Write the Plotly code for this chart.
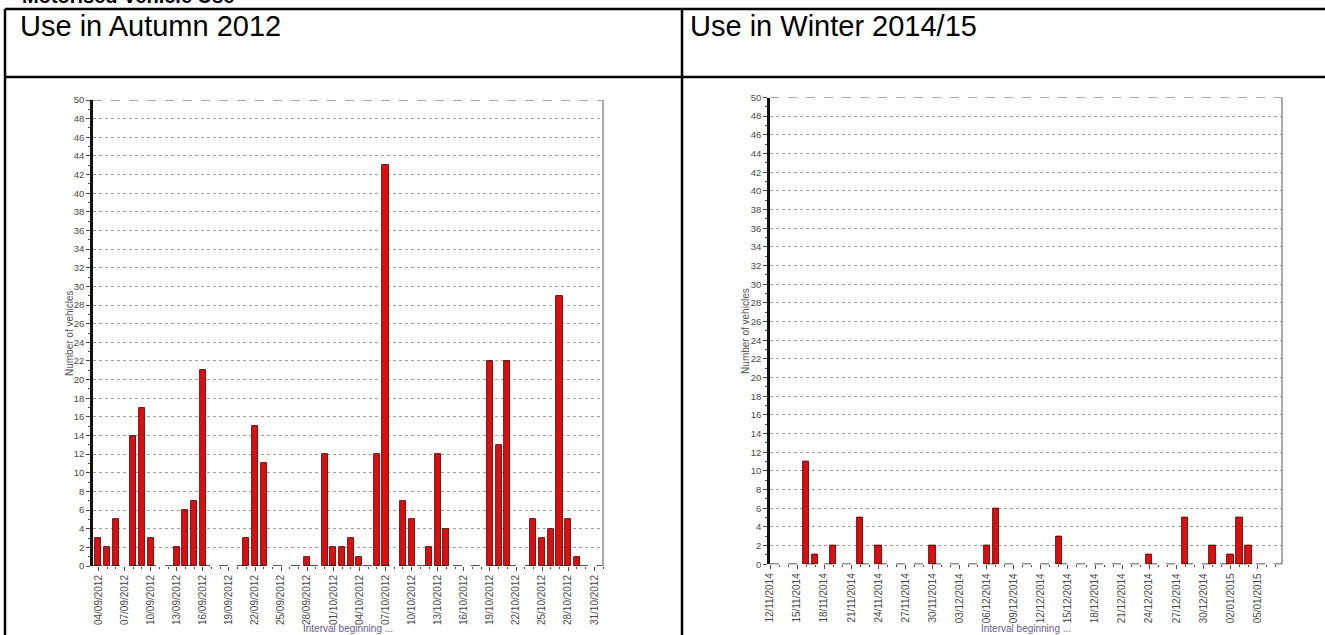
import plotly.graph_objects as go

W, H = 1325, 635

# ---- data ----
autumn_dates = ["2012-09-04", "2012-09-05", "2012-09-06", "2012-09-08", "2012-09-09", "2012-09-10",
                "2012-09-13", "2012-09-14", "2012-09-15", "2012-09-16", "2012-09-21", "2012-09-22",
                "2012-09-23", "2012-09-28", "2012-09-30", "2012-10-01", "2012-10-02", "2012-10-03",
                "2012-10-04", "2012-10-06", "2012-10-07", "2012-10-09", "2012-10-10", "2012-10-12",
                "2012-10-13", "2012-10-14", "2012-10-19", "2012-10-20", "2012-10-21", "2012-10-24",
                "2012-10-25", "2012-10-26", "2012-10-27", "2012-10-28", "2012-10-29"]
autumn_vals = [3, 2, 5, 14, 17, 3, 2, 6, 7, 21, 3, 15, 11, 1, 12, 2, 2, 3, 1, 12, 43, 7, 5, 2,
               12, 4, 22, 13, 22, 5, 3, 4, 29, 5, 1]

winter_dates = ["2014-11-16", "2014-11-17", "2014-11-19", "2014-11-22", "2014-11-24", "2014-11-30",
                "2014-12-06", "2014-12-07", "2014-12-14", "2014-12-24", "2014-12-28", "2014-12-31",
                "2015-01-02", "2015-01-03", "2015-01-04"]
winter_vals = [11, 1, 2, 5, 2, 2, 2, 6, 3, 1, 5, 2, 1, 5, 2]

page_title = "Motorised Vehicle Use"
head_left = "Use in Autumn 2012"
head_right = "Use in Winter 2014/15"
y_title = "Number of vehicles"
x_title = "Interval beginning ..."

DAY = 86400000
FONT = "Liberation Sans, Arial, sans-serif"
BAR = "#dc0f0f"
TICK_C = "#4a4a4a"


def px_x(p):
    return p / W


def px_y(p):
    return 1 - p / H


fig = go.Figure()
fig.add_trace(go.Bar(x=autumn_dates, y=autumn_vals, xaxis="x", yaxis="y", width=0.7 * DAY,
                     marker=dict(color=BAR, line=dict(color="#3a0000", width=0.8)), showlegend=False))
fig.add_trace(go.Bar(x=winter_dates, y=winter_vals, xaxis="x2", yaxis="y2", width=0.7 * DAY,
                     marker=dict(color=BAR, line=dict(color="#3a0000", width=0.8)), showlegend=False))


def xaxis(domain, rng, tick0):
    return dict(domain=domain, type="date", range=rng, tick0=tick0, dtick=3 * DAY,
                tickformat="%d/%m/%Y", tickangle=-90, ticks="outside", ticklen=4,
                tickcolor=TICK_C, tickwidth=1, showgrid=False, showline=False, zeroline=False,
                automargin=False,
                tickfont=dict(family=FONT, size=10, color=TICK_C),
                minor=dict(dtick=DAY, ticks="outside", ticklen=2, tickcolor=TICK_C, showgrid=False))


def yaxis(domain, anchor):
    return dict(domain=domain, anchor=anchor, range=[0, 50], dtick=2, ticks="outside", ticklen=4,
                tickcolor=TICK_C, showgrid=True, gridcolor="#a0a0a0", griddash="dot", gridwidth=1,
                showline=True, linecolor="#111111", linewidth=2.5, zeroline=False, automargin=False,
                tickfont=dict(family=FONT, size=9.5, color=TICK_C),
                minor=dict(dtick=1, ticks="outside", ticklen=2, tickcolor=TICK_C, showgrid=False))


L = (93, 603, 100, 566)
R = (770, 1282, 97.5, 564.3)

fig.update_layout(
    width=W, height=H, margin=dict(l=0, r=0, t=0, b=0, pad=0, autoexpand=False),
    paper_bgcolor="white", plot_bgcolor="white", bargap=0,
    xaxis=xaxis([px_x(L[0]), px_x(L[1])], ["2012-09-03 09:00", "2012-11-01 00:00"], "2012-09-04"),
    yaxis=yaxis([px_y(L[3]), px_y(L[2])], "x"),
    xaxis2=dict(anchor="y2", **xaxis([px_x(R[0]), px_x(R[1])], ["2014-11-12 00:00", "2015-01-07 17:00"], "2014-11-12")),
    yaxis2=yaxis([px_y(R[3]), px_y(R[2])], "x2"),
)

shapes = []
# table lines
tl = dict(color="black", width=2.5)
shapes.append(dict(type="line", xref="paper", yref="paper", x0=px_x(5), x1=1.0, y0=px_y(9), y1=px_y(9), line=tl))
shapes.append(dict(type="line", xref="paper", yref="paper", x0=px_x(5), x1=1.0, y0=px_y(77), y1=px_y(77), line=tl))
shapes.append(dict(type="line", xref="paper", yref="paper", x0=px_x(5), x1=px_x(5), y0=px_y(9), y1=0, line=tl))
shapes.append(dict(type="line", xref="paper", yref="paper", x0=px_x(682), x1=px_x(682), y0=px_y(9), y1=0, line=tl))

# chart frame pieces
for xa, ya in (("x", "y"), ("x2", "y2")):
    shapes.append(dict(type="line", xref=xa + " domain", yref=ya, x0=0, x1=1, y0=0, y1=0,
                       line=dict(color="#222", width=1.5, dash="dash"), layer="above"))
    shapes.append(dict(type="line", xref=xa + " domain", yref=ya, x0=0, x1=1, y0=50, y1=50,
                       line=dict(color="#555", width=1, dash="dash")))
    shapes.append(dict(type="line", xref=xa + " domain", yref=ya, x0=1, x1=1, y0=0, y1=50,
                       line=dict(color="#8a8a8a", width=1.5)))
fig.update_layout(shapes=shapes)

ann = []
ann.append(dict(text="<b>" + page_title + "</b>", xref="paper", yref="paper", x=px_x(20), y=px_y(9),
                xanchor="left", yanchor="bottom", showarrow=False,
                font=dict(family=FONT, size=20, color="black")))
ann.append(dict(text=head_left, xref="paper", yref="paper", x=px_x(18), y=px_y(26),
                xanchor="left", yanchor="middle", showarrow=False,
                font=dict(family=FONT, size=29, color="black")))
ann.append(dict(text=head_right, xref="paper", yref="paper", x=px_x(688), y=px_y(26),
                xanchor="left", yanchor="middle", showarrow=False,
                font=dict(family=FONT, size=29, color="black")))
for (x0, x1, y0, y1) in (L, R):
    ann.append(dict(text=y_title, xref="paper", yref="paper", x=px_x(x0 - 24), y=px_y((y0 + y1) / 2),
                    xanchor="center", yanchor="middle", textangle=-90, showarrow=False,
                    font=dict(family=FONT, size=10, color="#555")))
    ann.append(dict(text=x_title, xref="paper", yref="paper", x=px_x((x0 + x1) / 2), y=px_y(628),
                    xanchor="center", yanchor="middle", showarrow=False,
                    font=dict(family=FONT, size=10, color="#6e5a8c")))
fig.update_layout(annotations=ann)

fig.write_html("out.html", config={"displayModeBar": False},
               post_script="document.body.style.margin='0';document.body.style.overflow='hidden';")
